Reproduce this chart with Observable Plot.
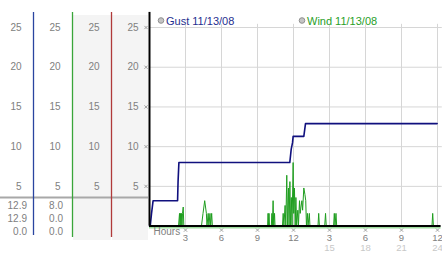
<!DOCTYPE html>
<html>
<head>
<meta charset="utf-8">
<script src="https://cdn.jsdelivr.net/npm/d3@7"></script>
<script src="https://cdn.jsdelivr.net/npm/@observablehq/plot@0.6"></script>
<style>
  html, body { margin: 0; padding: 0; background: #fff; }
  #chart { width: 442px; height: 253px; overflow: hidden; }
</style>
</head>
<body>
<div id="chart"></div>
<script>
// ---- data ----
const hourTicks = [3, 6, 9, 12, 15, 18, 21, 24];
const hourLabels = ["3", "6", "9", "12", "3", "6", "9", "12"];
const hourLabels24 = ["", "", "", "", "15", "18", "21", "24"];
const yTicks = [5, 10, 15, 20, 25];
const seriesNames = ["Gust 11/13/08", "Wind 11/13/08"];
const gustStats = ["12.9", "12.9", "0.0"];
const windStats = ["8.0", "0.0", "0.0"];

const gustHours  = [0, 0.06, 0.17, 0.3, 2.34, 2.38, 2.45, 11.69, 11.81, 11.92, 11.97, 12.86, 13.0, 23.97];
const gustValues = [0, 0,    1.6,  3.2, 3.2,  5.6,  8.0,  8.0,   9.7,   10.5,  11.3,  11.3,  12.9, 12.9];

const windHours = [
  0, 2.42, 2.5, 2.54, 2.58, 2.62, 2.67, 2.71, 2.75, 2.81, 2.86,
  4.33, 4.46, 4.6, 4.74, 4.79, 4.89, 4.95, 5.04, 5.1, 5.18, 5.24,
  9.84, 9.88, 9.92, 9.96, 10.0, 10.15, 10.2, 10.24, 10.3, 10.35, 10.42, 10.46,
  11.08, 11.14, 11.2, 11.3, 11.36, 11.44, 11.5, 11.58, 11.63, 11.7, 11.75, 11.82, 11.88,
  11.97, 12.02, 12.08, 12.14, 12.2, 12.26, 12.36, 12.41, 12.5, 12.56, 12.62, 12.7, 12.76,
  12.86, 12.95, 13.02, 13.08, 13.16, 13.21, 13.32, 13.37,
  14.04, 14.1, 14.16, 14.6, 14.67, 14.73, 15.34, 15.4, 15.46, 15.54, 15.6,
  23.54, 23.6, 23.66, 24
];
const windValues = [
  0, 0, 1.6, 0, 1.6, 0, 1.6, 0, 1.6, 2.4, 0,
  0, 1.6, 3.2, 1.6, 0, 1.6, 0, 1.6, 0, 1.6, 0,
  0, 1.6, 0, 1.6, 0, 0, 1.6, 0, 3.2, 0, 1.6, 0,
  0, 1.6, 0, 2.6, 0, 6.4, 0, 4.8, 0, 5.6, 0, 3.6, 0,
  8.0, 1.6, 4.8, 0, 3.6, 0, 2.0, 0, 3.2, 1.6, 2.4, 3.2, 2.0,
  4.8, 4.0, 3.2, 0, 1.6, 0, 1.6, 0,
  0, 1.6, 0, 0, 1.6, 0, 0, 1.6, 0, 1.6, 0,
  0, 1.6, 0, 0
];

// ---- chart ----
const FONT = "Liberation Sans, Arial, sans-serif";
const LEFT = 149;
const idx = (arr) => arr.map((_, i) => i);

const plot = Plot.plot({
  width: 442,
  height: 253,
  marginLeft: LEFT,
  marginRight: 5,
  marginTop: 27,
  marginBottom: 27.4,
  style: { background: "transparent", fontFamily: FONT, overflow: "visible" },
  x: { domain: [0, 24], axis: null },
  y: { domain: [0, 25], axis: null },
  marks: [
    // grid
    Plot.ruleY(yTicks, { y: d => d, x1: 0, x2: 24.4, stroke: "#d6d6d6", strokeWidth: 1 }),
    Plot.ruleX(hourTicks, { x: d => d, y1: 0, y2: 25.4, stroke: "#d6d6d6", strokeWidth: 1 }),
    // series
    Plot.line(idx(windHours), { x: i => windHours[i], y: i => windValues[i], stroke: "#1f9e1f", strokeWidth: 1 }),
    Plot.line(idx(gustHours), { x: i => gustHours[i], y: i => gustValues[i], stroke: "#10107e", strokeWidth: 1.6 }),
    // axes lines
    Plot.ruleY([0], { y: d => d, x1: 0, x2: 24.3, stroke: "#9fdc9f", strokeWidth: 1.5, dy: 1.6 }),
    Plot.ruleY([0], { y: d => d, x1: 0, x2: 24.3, stroke: "#000", strokeWidth: 2 }),
    Plot.ruleX([0], { x: d => d, y1: 0, y2: 26.9, stroke: "#000", strokeWidth: 2 }),
    // y labels, four columns
    Plot.text(yTicks, { y: d => d, text: d => String(d), frameAnchor: "left", dx: 21 - LEFT, textAnchor: "end", lineAnchor: "middle", fill: "#808080", fontSize: 10 }),
    Plot.text(yTicks, { y: d => d, text: d => String(d), frameAnchor: "left", dx: 60 - LEFT, textAnchor: "end", lineAnchor: "middle", fill: "#808080", fontSize: 10 }),
    Plot.text(yTicks, { y: d => d, text: d => String(d), frameAnchor: "left", dx: 99 - LEFT, textAnchor: "end", lineAnchor: "middle", fill: "#808080", fontSize: 10 }),
    Plot.text(yTicks, { y: d => d, text: d => String(d), frameAnchor: "left", dx: 138 - LEFT, textAnchor: "end", lineAnchor: "middle", fill: "#808080", fontSize: 10 }),
    // tick marks
    Plot.dot(yTicks, { y: d => d, frameAnchor: "left", dx: -3.5, symbol: "times", r: 1.6, stroke: "#a0a0a0", strokeWidth: 1 }),
    Plot.dot(hourTicks, { x: d => d, frameAnchor: "bottom", dy: 4, symbol: "times", r: 1.6, stroke: "#a0a0a0", strokeWidth: 1 }),
    // x labels
    Plot.text(idx(hourTicks), { x: i => hourTicks[i], text: i => hourLabels[i], frameAnchor: "bottom", lineAnchor: "middle", dy: 12, fill: "#808080", fontSize: 9.5 }),
    Plot.text(idx(hourTicks), { x: i => hourTicks[i], text: i => hourLabels24[i], frameAnchor: "bottom", lineAnchor: "middle", dy: 21.5, fill: "#c8c8c8", fontSize: 9.5 }),
    Plot.text(["Hours"], { text: d => d, frameAnchor: "bottom-left", lineAnchor: "middle", dx: 4, dy: 6, textAnchor: "start", fill: "#808080", fontSize: 10 })
  ]
});

document.getElementById("chart").appendChild(plot);

// ---- layout decorations (left panel, legend) ----
const svg = d3.select(plot);
const deco = svg.insert("g", ":first-child");
deco.append("rect").attr("x", 73).attr("y", 15).attr("width", 38).attr("height", 225).attr("fill", "#f4f4f4");
deco.append("rect").attr("x", 112).attr("y", 15).attr("width", 36).attr("height", 225).attr("fill", "#f4f4f4");
deco.append("line").attr("x1", 0).attr("x2", 148).attr("y1", 197.5).attr("y2", 197.5).attr("stroke", "#a8a8a8").attr("stroke-width", 2);
deco.append("line").attr("x1", 33.5).attr("x2", 33.5).attr("y1", 12).attr("y2", 235).attr("stroke", "#2a45a0").attr("stroke-width", 1.3);
deco.append("line").attr("x1", 72.5).attr("x2", 72.5).attr("y1", 12).attr("y2", 237).attr("stroke", "#3aa53a").attr("stroke-width", 1.3);
deco.append("line").attr("x1", 111.5).attr("x2", 111.5).attr("y1", 12).attr("y2", 237).attr("stroke", "#b03a3a").attr("stroke-width", 1.3);

const stats = svg.append("g").attr("font-family", FONT).attr("font-size", 10).attr("fill", "#808080").attr("text-anchor", "end");
const rowsY = [209, 222, 235];
gustStats.forEach((s, i) => stats.append("text").attr("x", 27).attr("y", rowsY[i]).text(s));
windStats.forEach((s, i) => stats.append("text").attr("x", 63).attr("y", rowsY[i]).text(s));

const legend = svg.append("g").attr("font-family", FONT).attr("font-size", 11).attr("text-anchor", "start");
const legendX = [161, 302];
const legendColors = ["#1f2f8f", "#28a028"];
seriesNames.forEach((name, i) => {
  legend.append("circle").attr("cx", legendX[i]).attr("cy", 20.5).attr("r", 2.8).attr("fill", "#c4c4c4").attr("stroke", "#909090").attr("stroke-width", 1);
  legend.append("text").attr("x", legendX[i] + 5).attr("y", 24.5).attr("fill", legendColors[i]).text(name);
});
</script>
</body>
</html>
